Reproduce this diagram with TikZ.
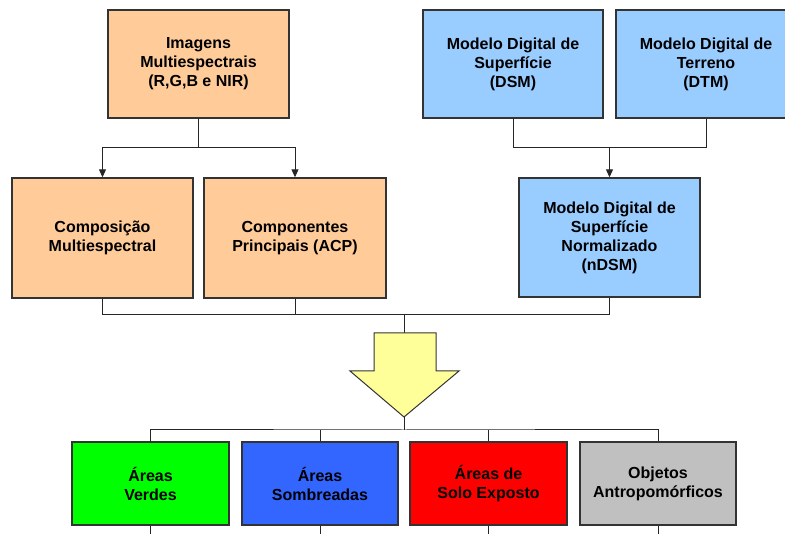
\documentclass[tikz,border=0pt]{standalone}
\usepackage{fontspec}
\setmainfont{Liberation Sans}
\usetikzlibrary{arrows.meta}
\definecolor{pessego}{HTML}{FFCC99}
\definecolor{celeste}{HTML}{99CCFF}
\definecolor{verde}{HTML}{00FF00}
\definecolor{azul}{HTML}{3366FF}
\definecolor{vermelho}{HTML}{FF0000}
\definecolor{cinza}{HTML}{C0C0C0}
\definecolor{amarelo}{HTML}{FFFF99}
\definecolor{borda}{HTML}{333333}
\begin{document}
\begin{tikzpicture}[x=1pt, y=-1pt,
    caixa/.style={draw=borda, line width=1.4pt, align=center, inner sep=0pt,
        font=\bfseries\fontsize{16}{19}\selectfont},
    liga/.style={line width=1pt, draw=black!85},
    seta/.style={liga, -{Triangle[width=7pt,length=8pt]}}]
    \clip (0,0) rectangle (785,534);

    % linha de cima
    \node[caixa, fill=pessego, minimum width=181, minimum height=108] (img) at (198.5,64) {Imagens\\Multiespectrais\\(R,G,B e NIR)};
    \node[caixa, fill=celeste, minimum width=180, minimum height=108] (dsm) at (513,64) {Modelo Digital de\\Superfície\\(DSM)};
    \node[caixa, fill=celeste, minimum width=180, minimum height=108] (dtm) at (706,64) {Modelo Digital de\\Terreno\\(DTM)};

    % linha do meio
    \node[caixa, fill=pessego, minimum width=181, minimum height=120] (comp) at (102.5,238) {Composição\\Multiespectral};
    \node[caixa, fill=pessego, minimum width=182, minimum height=120] (acp) at (295,238) {Componentes\\Principais (ACP)};
    \node[caixa, fill=celeste, minimum width=181, minimum height=119] (ndsm) at (609.5,237.5) {Modelo Digital de\\Superfície\\Normalizado\\(nDSM)};

    % classes
    \node[caixa, fill=verde, minimum width=157, minimum height=83] (verdes) at (150.5,483.5) {Áreas\\Verdes};
    \node[caixa, fill=azul, minimum width=156, minimum height=83] (sombra) at (320,483.5) {Áreas\\Sombreadas};
    \node[caixa, fill=vermelho, minimum width=157, minimum height=83] (solo) at (488.5,483.5) {Áreas de\\Solo Exposto};
    \node[caixa, fill=cinza, minimum width=156, minimum height=83] (objetos) at (658,483.5) {Objetos\\Antropomórficos};

    \coordinate (j1) at (198.5,148);
    \coordinate (j2) at (609.5,148);
    \coordinate (j3) at (404,315);
    \coordinate (j4) at (404,430);
    \coordinate (topo) at (404,333);
    \coordinate (ponta) at (404,417);

    \draw[liga] (img.south) -- (j1);
    \draw[seta] (j1) -| (comp.north);
    \draw[seta] (j1) -| (acp.north);

    \draw[liga] (dsm.south) |- (j2);
    \draw[liga] (dtm.south) |- (j2);
    \draw[seta] (j2) -- (ndsm.north);

    \draw[liga] (comp.south) |- (j3);
    \draw[liga] (ndsm.south) |- (j3);
    \draw[liga] (acp.south) -- (acp.south |- j3);
    \draw[liga] (j3) -- (topo);

    % seta grande
    \draw[draw=borda, line width=1pt, fill=amarelo]
        (374,333) -- (436,333) -- (436,371) -- (459,371) -- (ponta)
        -- (350,371) -- (374,371) -- cycle;

    \draw[liga] (ponta) -- (j4);
    \draw[liga] (verdes.north) |- (j4) -| (objetos.north);
    \draw[liga] (sombra.north) -- (sombra.north |- j4);
    \draw[liga] (solo.north) -- (solo.north |- j4);

    \foreach \c in {verdes, sombra, solo, objetos}
        \draw[liga] (\c.south) -- ++(0,15);
\end{tikzpicture}
\end{document}
